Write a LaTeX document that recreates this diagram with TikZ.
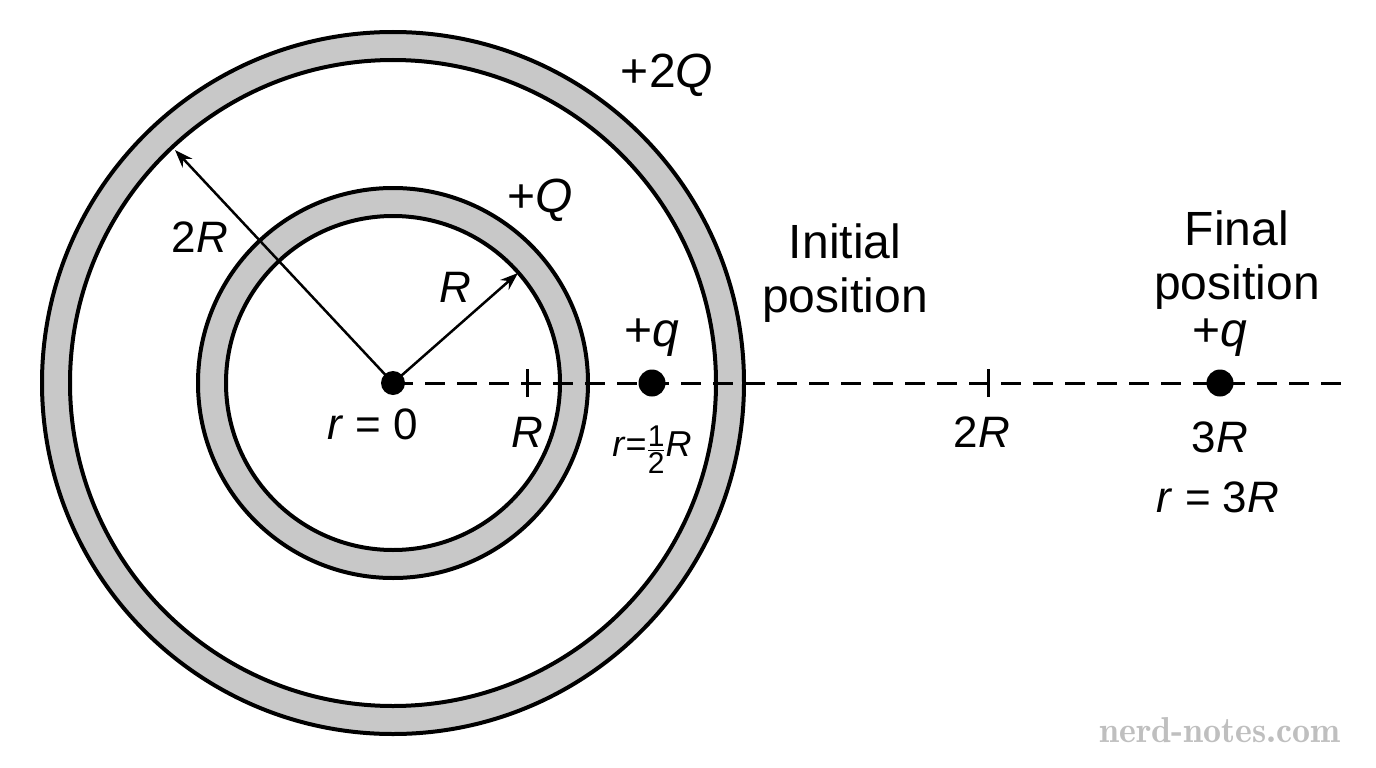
\documentclass[tikz,border=0pt]{standalone}
\usepackage{amsmath}
\usepackage{fontspec}
\setmainfont{Liberation Sans}
\usetikzlibrary{arrows.meta,positioning}
\definecolor{shellgray}{HTML}{C8C8C8}
\tikzset{
  shell/.style={draw=black, line width=4pt, fill=shellgray},
  hole/.style={draw=black, line width=4pt, fill=white},
  charge/.style={circle, fill=black, inner sep=0pt, minimum size=27pt},
  lbl/.style={font=\fontsize{44}{52}\selectfont, inner sep=1pt},
  big/.style={font=\fontsize{48}{54}\selectfont, align=center, inner sep=1pt},
  radius arrow/.style={line width=2.5pt, -{Stealth[length=18pt,width=13pt]}}
}
\begin{document}
\begin{tikzpicture}[x=1pt,y=-1pt]
\useasboundingbox (0,0) rectangle (1376,768);
% shells
\draw[shell] (393,383) circle (351);
\draw[hole] (393,383) circle (323);
\draw[shell] (393,383) circle (195);
\draw[hole] (393,383) circle (167);
% axis
\node[charge, minimum size=24pt] (O) at (393,383) {};
\coordinate (end) at (1345,383);
\draw[line width=3pt, dash pattern=on 20pt off 12pt] (O.center) -- (end);
\coordinate (tR) at (527,383);
\coordinate (t2R) at (988,383);
\draw[line width=3pt] ([yshift=-14pt]tR) -- ([yshift=14pt]tR);
\draw[line width=3pt] ([yshift=-14pt]t2R) -- ([yshift=14pt]t2R);
\node[charge] (qi) at (652,383) {};
\node[charge] (qf) at (1220,383) {};
% radii
\coordinate (p2R) at (175,150);
\coordinate (pR) at (518,273);
\draw[radius arrow] (O.center) -- (p2R);
\draw[radius arrow] (O.center) -- (pR);
\node[lbl] at (200,237) {2\textit{R}};
\node[lbl] at (455,287) {\textit{R}};
% charges on shells
\node[big] at (667,75) {+2\textit{Q}};
\node[big] at (540,200) {+\textit{Q}};
% positions
\node[big] at (845,273) {Initial\\position};
\node[big] at (1237,260) {Final\\position};
\node[big, above=12pt of qi] {+\textit{q}};
\node[big, above=12pt of qf] {+\textit{q}};
% axis labels
\node[lbl] at (373,424) {\textit{r} = 0};
\node[lbl] at (527,432) {\textit{R}};
\node[lbl, font=\fontsize{36}{40}\selectfont] at (652,450) {\textit{r}=$\genfrac{}{}{1.5pt}{}{\mbox{\fontsize{30}{32}\selectfont 1}}{\mbox{\fontsize{30}{32}\selectfont 2}}$\textit{R}};
\node[lbl] at (982,432) {2\textit{R}};
\node[lbl] at (1220,437) {3\textit{R}};
\node[lbl] at (1218,497) {\textit{r} = 3\textit{R}};
% watermark
\node[font=\fontfamily{lmr}\fontsize{36}{40}\selectfont\bfseries, text=black!25] at (1220,730) {nerd-notes.com};
\end{tikzpicture}
\end{document}
